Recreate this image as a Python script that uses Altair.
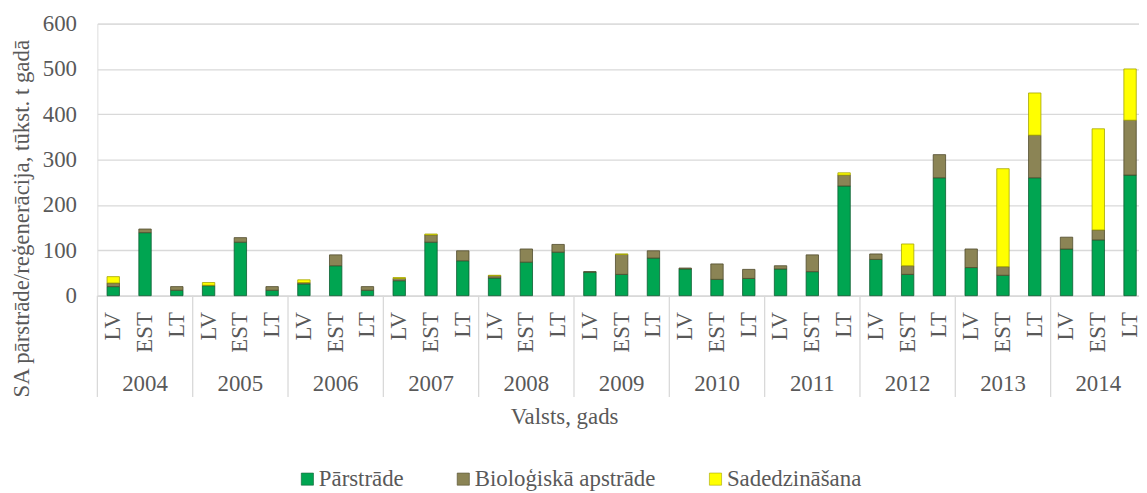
import altair as alt
import pandas as pd

years = ["2004", "2005", "2006", "2007", "2008", "2009", "2010", "2011", "2012", "2013", "2014"]
countries = ["LV", "EST", "LT"]
series = ["Pārstrāde", "Bioloģiskā apstrāde", "Sadedzināšana"]

# values per (year, country) in order LV, EST, LT for each year
parstrade = [20, 139, 12, 22, 118, 12, 26, 66, 12, 33, 118, 77, 39, 74, 96, 52, 47, 83,
             59, 36, 38, 59, 53, 242, 80, 47, 260, 62, 45, 260, 103, 123, 266]
biologiska = [8, 8, 8, 1, 10, 8, 3, 24, 8, 5, 16, 22, 5, 29, 17, 1, 44, 16,
              2, 34, 20, 7, 37, 24, 12, 19, 51, 41, 19, 94, 26, 22, 121]
sadedzinasana = [14, 0, 0, 6, 0, 0, 6, 0, 0, 2, 2, 0, 1, 0, 0, 0, 1, 0,
                 0, 0, 0, 0, 0, 5, 0, 48, 0, 0, 216, 93, 0, 223, 113]

fill_colors = ["#00a551", "#8b8455", "#ffff00"]
stroke_colors = ["#0b5e31", "#4f4a2c", "#a6a600"]

FONT = "'Liberation Serif', 'Times New Roman', Times, serif"
TXT = "#595959"
GRID = "#d9d9d9"

slots = [f"{y}|{c}" for y in years for c in countries]

rows = []
for s_i, (name, vals) in enumerate(zip(series, [parstrade, biologiska, sadedzinasana])):
    for slot, v in zip(slots, vals):
        y, c = slot.split("|")
        rows.append({"slot": slot, "year": y, "country": c, "series": name, "value": v, "ord": s_i})
df = pd.DataFrame(rows)

x_scale = alt.Scale(domain=slots, range=[0, 1056], paddingInner=0, paddingOuter=0)

x_axis = alt.Axis(
    title="Valsts, gads", titleFont=FONT, titleFontSize=23, titleFontWeight="normal", titleColor=TXT,
    titleX=470, titleY=122, titleBaseline="middle", titleAlign="center", titleAnchor="start",
    labelExpr="split(datum.label, '|')[1]", labelAngle=270, labelAlign="right", labelBaseline="middle",
    labelPadding=16, labelFont=FONT, labelFontSize=23, labelColor=TXT, labelOverlap=False,
    ticks=False, tickSize=0, domainColor=GRID, domainWidth=1.3, grid=False,
)

y_axis = alt.Axis(
    values=[0, 100, 200, 300, 400, 500, 600], grid=True, gridColor=GRID, gridWidth=1.3,
    domain=False, ticks=False, tickSize=0, labelPadding=21, labelFont=FONT, labelFontSize=23,
    labelColor=TXT, title="SA pārstrāde/reģenerācija, tūkst. t gadā", titleFont=FONT,
    titleFontSize=23, titleFontWeight="normal", titleColor=TXT, titleAngle=270,
    titleX=-76, titleY=196, titleAlign="center", titleBaseline="middle", titleLimit=600,
)

bars = alt.Chart(df).transform_filter("datum.value > 0").mark_bar(
    width=alt.RelativeBandSize(0.39), strokeWidth=0.8
).encode(
    x=alt.X("slot:N", scale=x_scale, sort=slots, axis=x_axis),
    y=alt.Y("value:Q", stack="zero", scale=alt.Scale(domain=[0, 600], nice=False), axis=y_axis),
    color=alt.Color("series:N", scale=alt.Scale(domain=series, range=fill_colors), legend=alt.Legend(
        orient="none", legendX=200, legendY=447, direction="horizontal", title=None,
        symbolType="square", symbolSize=150, symbolStrokeColor="#555555", symbolStrokeWidth=0.6,
        labelFont=FONT, labelFontSize=23, labelColor=TXT, labelLimit=500,
        columnPadding=48, labelOffset=0, padding=0,
    )),
    stroke=alt.Stroke("series:N", scale=alt.Scale(domain=series, range=stroke_colors), legend=None),
    order=alt.Order("ord:Q"),
)

year_df = pd.DataFrame({"slot": [f"{y}|EST" for y in years], "year": years})
year_text = alt.Chart(year_df).mark_text(
    font=FONT, fontSize=23, color=TXT, baseline="middle", align="center"
).encode(
    x=alt.X("slot:N", scale=x_scale, sort=slots),
    y=alt.value(363),
    text="year:N",
)

sep_df = pd.DataFrame({"slot": [f"{y}|LV" for y in years]})
seps = alt.Chart(sep_df).mark_rule(color=GRID, strokeWidth=1.3).encode(
    x=alt.X("slot:N", scale=x_scale, sort=slots, bandPosition=0),
    y=alt.value(274),
    y2=alt.value(376),
)

chart = alt.layer(seps, bars, year_text).properties(
    width=1049, height=274,
    autosize=alt.AutoSizeParams(type="none"),
    padding={"left": 90, "top": 14, "right": 0, "bottom": 196},
).configure_view(stroke=None).configure(background="white", font=FONT)

chart.save("out.html", embed_options={"renderer": "svg", "actions": False})
